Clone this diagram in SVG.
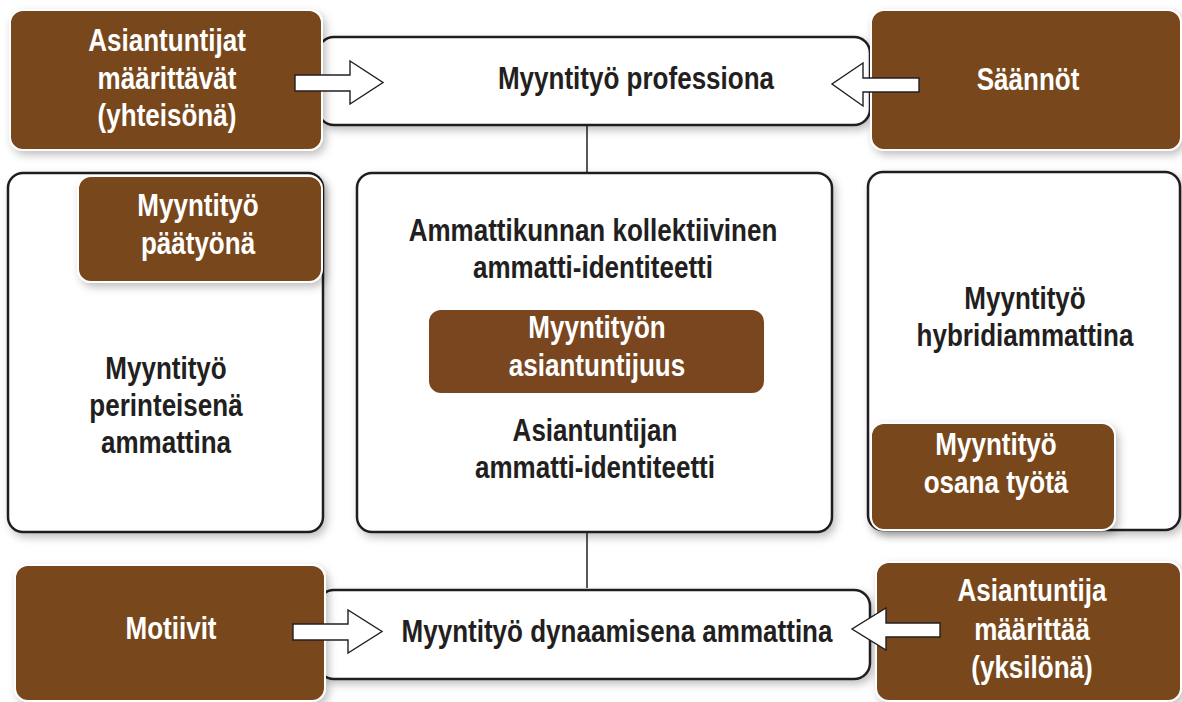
<svg xmlns="http://www.w3.org/2000/svg" width="1182" height="702" viewBox="0 0 1182 702">
  <style>
    .frame { fill: #ffffff; stroke: #231f20; stroke-width: 2.5; }
    .tag { fill: #79461f; stroke: #ffffff; stroke-width: 2; }
    .lbl { font-family: "Liberation Sans", Arial, sans-serif; font-weight: bold; font-size: 31px; text-anchor: middle; }
    .dark { fill: #231f20; }
    .light { fill: #ffffff; }
    .arrow { fill: #ffffff; stroke: #231f20; stroke-width: 1.4; stroke-linejoin: miter; }
    .link { stroke: #231f20; stroke-width: 1.5; fill: none; }
  </style>
  <defs>
    <filter id="shade" x="-10%" y="-10%" width="125%" height="130%">
      <feDropShadow dx="3" dy="4" stdDeviation="4" flood-color="#000000" flood-opacity="0.25"/>
    </filter>
  </defs>

  <rect width="1182" height="702" fill="#ffffff"/>

  <!-- vertical links between the central column -->
  <g id="connectors">
    <line class="link" x1="587" y1="125" x2="587" y2="173"/>
    <line class="link" x1="587" y1="532" x2="587" y2="588"/>
  </g>

  <!-- top band -->
  <g id="profession">
    <rect class="frame" x="318" y="37" width="552" height="88" rx="16" filter="url(#shade)"/>
    <text class="lbl dark" transform="translate(636,0) scale(0.84,1)" x="0" y="89">Myyntityö professiona</text>
  </g>
  <g id="experts-collective">
    <rect class="tag" x="10" y="10" width="312" height="140" rx="13" filter="url(#shade)"/>
    <text class="lbl light" transform="translate(167,0) scale(0.84,1)" x="0" y="51">Asiantuntijat<tspan x="0" dy="38">määrittävät</tspan><tspan x="0" dy="37">(yhteisönä)</tspan></text>
  </g>
  <g id="rules">
    <rect class="tag" x="871" y="10" width="310" height="140" rx="13" filter="url(#shade)"/>
    <text class="lbl light" transform="translate(1028,0) scale(0.84,1)" x="0" y="90">Säännöt</text>
  </g>

  <!-- middle row -->
  <g id="traditional">
    <rect class="frame" x="8" y="173" width="315" height="359" rx="15" filter="url(#shade)"/>
    <text class="lbl dark" transform="translate(166,0) scale(0.84,1)" x="0" y="379">Myyntityö<tspan x="0" dy="37">perinteisenä</tspan><tspan x="0" dy="37">ammattina</tspan></text>
  </g>
  <g id="main-job">
    <rect class="tag" x="78" y="176" width="244" height="106" rx="13" filter="url(#shade)"/>
    <text class="lbl light" transform="translate(198,0) scale(0.84,1)" x="0" y="216">Myyntityö<tspan x="0" dy="38">päätyönä</tspan></text>
  </g>

  <g id="identity">
    <rect class="frame" x="357" y="173" width="475" height="359" rx="15" filter="url(#shade)"/>
    <text class="lbl dark" transform="translate(593,0) scale(0.84,1)" x="0" y="241">Ammattikunnan kollektiivinen<tspan x="0" dy="37">ammatti-identiteetti</tspan></text>
    <text class="lbl dark" transform="translate(595,0) scale(0.84,1)" x="0" y="441">Asiantuntijan<tspan x="0" dy="37">ammatti-identiteetti</tspan></text>
  </g>
  <g id="expertise">
    <rect class="tag" x="428" y="309" width="337" height="85" rx="13"/>
    <text class="lbl light" transform="translate(597,0) scale(0.84,1)" x="0" y="338">Myyntityön<tspan x="0" dy="38">asiantuntijuus</tspan></text>
  </g>

  <g id="hybrid">
    <rect class="frame" x="868" y="172" width="312" height="358" rx="15" filter="url(#shade)"/>
    <text class="lbl dark" transform="translate(1025,0) scale(0.84,1)" x="0" y="309">Myyntityö<tspan x="0" dy="37">hybridiammattina</tspan></text>
  </g>
  <g id="part-of-job">
    <rect class="tag" x="871" y="423" width="244" height="107" rx="13" filter="url(#shade)"/>
    <text class="lbl light" transform="translate(996,0) scale(0.84,1)" x="0" y="455">Myyntityö<tspan x="0" dy="38">osana työtä</tspan></text>
  </g>

  <!-- bottom band -->
  <g id="dynamic">
    <rect class="frame" x="318" y="590" width="552" height="89" rx="16" filter="url(#shade)"/>
    <text class="lbl dark" transform="translate(617,0) scale(0.84,1)" x="0" y="642">Myyntityö dynaamisena ammattina</text>
  </g>
  <g id="motives">
    <rect class="tag" x="15" y="565" width="310" height="136" rx="13" filter="url(#shade)"/>
    <text class="lbl light" transform="translate(171,0) scale(0.84,1)" x="0" y="639">Motiivit</text>
  </g>
  <g id="expert-individual">
    <rect class="tag" x="876" y="562" width="305" height="139" rx="13" filter="url(#shade)"/>
    <text class="lbl light" transform="translate(1032,0) scale(0.84,1)" x="0" y="601">Asiantuntija<tspan x="0" dy="39">määrittää</tspan><tspan x="0" dy="38">(yksilönä)</tspan></text>
  </g>

  <!-- block arrows feeding the bands -->
  <g id="arrows">
    <polygon class="arrow" points="295,75 350,75 350,61 383,82.5 350,104 350,91 295,91"/>
    <polygon class="arrow" points="919,78 863,78 863,63 832,84 863,106 863,92 919,92"/>
    <polygon class="arrow" points="293,624 348,624 348,610 382,631.5 348,653 348,640 293,640"/>
    <polygon class="arrow" points="940,623 886,623 886,608 852,629 886,650 886,637 940,637"/>
  </g>
</svg>
